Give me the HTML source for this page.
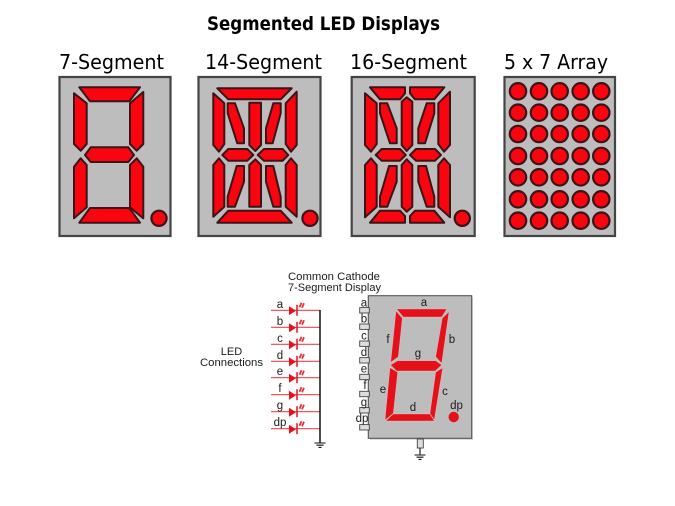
<!DOCTYPE html>
<html><head><meta charset="utf-8"><style>
html,body{margin:0;padding:0;background:#fff;width:675px;height:506px;overflow:hidden}
svg{display:block;filter:blur(.35px)}
.s polygon{fill:#fa0410;stroke:#3c1417;stroke-width:2;stroke-linejoin:round}
.s circle{fill:#fa0410;stroke:#3c1417;stroke-width:2.2}
.p{fill:#bdbdbd;stroke:#444;stroke-width:2.2}
.h{font-family:"DejaVu Sans","Liberation Sans",sans-serif;font-size:20px;fill:#000}
.t{font-family:"Liberation Sans",sans-serif;font-size:11.500px;fill:#1c1c1c}
.c{font-family:"Liberation Sans",sans-serif;font-size:11px;fill:#1c1c1c}
.r polygon{fill:#e4101a;stroke:#f4d8d8;stroke-width:.3}
</style></head><body>
<svg width="675" height="506" viewBox="0 0 675 506" xmlns="http://www.w3.org/2000/svg">
<defs>
<g id="led"><line x1="271" y1="0" x2="320" y2="0" stroke="#ea4650" stroke-width="1.2"/>
<polygon points="289,-4 296,0.5 289,5" fill="#e8101c"/>
<line x1="297" y1="-5.500" x2="297" y2="5.500" stroke="#e8101c" stroke-width="1.500"/>
<path d="M299.5 -3 L301.5 -7.500 M302 -2.500 L304 -7" stroke="#e8303a" stroke-width="1.800"/></g>
<g id="pin"><rect x="359.7" y="-2.7" width="9.6" height="5.4" fill="#ddd" stroke="#444" stroke-width=".9"/></g>
<g id="gnd"><path d="M-5.5 0H5.5M-3.5 2.2H3.5M-1.5 4.4H1.5" stroke="#111" stroke-width="1.100"/></g>
</defs>

<text x="207" y="30" textLength="233" lengthAdjust="spacingAndGlyphs" font-family="'DejaVu Sans',sans-serif" font-weight="700" font-size="19" fill="#000">Segmented LED Displays</text>
<text class="h" x="59" y="69" textLength="105" lengthAdjust="spacingAndGlyphs">7-Segment</text>
<text class="h" x="205" y="69" textLength="117" lengthAdjust="spacingAndGlyphs">14-Segment</text>
<text class="h" x="350" y="69" textLength="117" lengthAdjust="spacingAndGlyphs">16-Segment</text>
<text class="h" x="504" y="69" textLength="104" lengthAdjust="spacingAndGlyphs">5 x 7 Array</text>

<!-- 7 segment -->
<rect class="p" x="59.5" y="77" width="111" height="159"/>
<g class="s">
<polygon points="79.3,87.3 140,87.3 129.3,101.3 90,101.3"/>
<polygon points="74,93.3 86.7,103.3 86.7,144 80.7,150.7 74,144"/>
<polygon points="130,103.3 143.3,92 143.3,144 136.7,150.7 130,144"/>
<polygon points="85,155 90.7,147.3 128.3,147.3 134,155 128.3,162 90.7,162"/>
<polygon points="74,166.7 80.7,158.3 86.7,165 86.7,207.3 74,218.3"/>
<polygon points="130,165 136.7,158.3 143.3,166.7 143.3,218.3 130,207.3"/>
<polygon points="90,208 129.3,208 140,222.7 79.3,222.7"/>
<circle cx="159" cy="218.3" r="7.6"/>
</g>

<!-- 14 segment -->
<rect class="p" x="198.5" y="77" width="122" height="159"/>
<g class="s">
<polygon points="217.3,88.3 291.7,88.3 280.7,99.3 228.3,99.3"/>
<polygon points="213.3,93.3 224.3,103.3 224.3,144 219,151.7 213.3,145"/>
<polygon points="285.7,103.3 296.7,91.7 296.7,145 291,151.7 285.7,144"/>
<polygon points="227.7,103.3 235,103.3 244,128.3 244,143.3 237.3,143.3 227.7,113.3"/>
<polygon points="249.3,102.7 261,102.7 261,145 255.3,151 249.3,145"/>
<polygon points="273.3,103.3 280.7,103.3 280.7,113.3 272.7,143.3 266,143.3 266,128.3"/>
<polygon points="222.3,155 228.3,149 247.3,149 253.3,155 247.3,160.7 228.3,160.7"/>
<polygon points="257.7,155 264,149 282.7,149 288.3,155 282.7,160.7 264,160.7"/>
<polygon points="213.3,165 219,158.3 224.3,165 224.3,206.7 213.3,216.7"/>
<polygon points="285.7,165 291,158.3 296.7,165 296.7,216.7 285.7,206.7"/>
<polygon points="236.7,166 244,166 244,181.7 235,206.7 227.7,206.7 227.7,196.7"/>
<polygon points="249.3,165 255.3,159.3 261,165 261,206.7 249.3,206.7"/>
<polygon points="266,166 273.3,166 280.7,196.7 280.7,206.7 273.3,206.7 266,181.7"/>
<polygon points="228.3,210.7 280.7,210.7 291.7,222.7 217.3,222.7"/>
<circle cx="310" cy="218.3" r="7.6"/>
</g>

<!-- 16 segment -->
<rect class="p" x="351.7" y="77" width="123" height="159"/>
<g class="s">
<polygon points="370,87.3 405,87.3 405,93.3 400,99.3 380,99.3"/>
<polygon points="410,87.3 444.3,87.3 434.3,99.3 415,99.3 410,93.3"/>
<polygon points="365,93.3 376.7,103.3 376.7,144 371,151.7 365,145"/>
<polygon points="401.7,101.7 406.7,97.3 412.3,101.7 412.3,145 406.7,151 401.7,145"/>
<polygon points="438.3,103.3 450,91.7 450,145 444,151.7 438.3,144"/>
<polygon points="380,103.3 387.3,103.3 396.7,128.3 396.7,143.3 390,143.3 380,113.3"/>
<polygon points="426.7,103.3 434.3,103.3 434.3,113.3 425,143.3 418.3,143.3 418.3,128.3"/>
<polygon points="375.7,155 381.7,149 400,149 405.7,155 400,160.7 381.7,160.7"/>
<polygon points="410,155 416,149 435,149 441,155 435,160.7 416,160.7"/>
<polygon points="365,165 371,158.3 376.7,165 376.7,206.7 365,217.3"/>
<polygon points="401.7,165 406.7,159.3 412.3,165 412.3,206.7 406.7,211.7 401.7,206.7"/>
<polygon points="438.3,165 444,158.3 450,165 450,217.3 438.3,206.7"/>
<polygon points="389,166 396.7,166 396.7,181.7 387.3,206.7 380,206.7 380,196.7"/>
<polygon points="418.3,166 426,166 434.3,196.7 434.3,206.7 426.7,206.7 418.3,181.7"/>
<polygon points="380,210.7 400,210.7 405,216 405,222.7 370,222.7"/>
<polygon points="415,210.7 434.3,210.7 444.3,222.7 410,222.7 410,216"/>
<circle cx="462.3" cy="218.3" r="7.6"/>
</g>

<!-- 5x7 -->
<rect class="p" x="504.5" y="77" width="110.5" height="159"/>
<g class="s">
<circle cx="518" cy="91.3" r="8.2"/><circle cx="539" cy="91.3" r="8.2"/><circle cx="559.7" cy="91.3" r="8.2"/><circle cx="580.7" cy="91.3" r="8.2"/><circle cx="601.3" cy="91.3" r="8.2"/>
<circle cx="518" cy="112.7" r="8.2"/><circle cx="539" cy="112.7" r="8.2"/><circle cx="559.7" cy="112.7" r="8.2"/><circle cx="580.7" cy="112.7" r="8.2"/><circle cx="601.3" cy="112.7" r="8.2"/>
<circle cx="518" cy="134" r="8.2"/><circle cx="539" cy="134" r="8.2"/><circle cx="559.7" cy="134" r="8.2"/><circle cx="580.7" cy="134" r="8.2"/><circle cx="601.3" cy="134" r="8.2"/>
<circle cx="518" cy="156" r="8.2"/><circle cx="539" cy="156" r="8.2"/><circle cx="559.7" cy="156" r="8.2"/><circle cx="580.7" cy="156" r="8.2"/><circle cx="601.3" cy="156" r="8.2"/>
<circle cx="518" cy="177.3" r="8.2"/><circle cx="539" cy="177.3" r="8.2"/><circle cx="559.7" cy="177.3" r="8.2"/><circle cx="580.7" cy="177.3" r="8.2"/><circle cx="601.3" cy="177.3" r="8.2"/>
<circle cx="518" cy="199.3" r="8.2"/><circle cx="539" cy="199.3" r="8.2"/><circle cx="559.7" cy="199.3" r="8.2"/><circle cx="580.7" cy="199.3" r="8.2"/><circle cx="601.3" cy="199.3" r="8.2"/>
<circle cx="518" cy="220.7" r="8.2"/><circle cx="539" cy="220.7" r="8.2"/><circle cx="559.7" cy="220.7" r="8.2"/><circle cx="580.7" cy="220.7" r="8.2"/><circle cx="601.3" cy="220.7" r="8.2"/>
</g>

<!-- Header of lower diagram -->
<text class="c" x="288" y="280" textLength="92" lengthAdjust="spacingAndGlyphs">Common Cathode</text>
<text class="c" x="288" y="291" textLength="93" lengthAdjust="spacingAndGlyphs">7-Segment Display</text>
<text class="c" x="231.5" y="355" text-anchor="middle">LED</text>
<text class="c" x="231.5" y="366" text-anchor="middle" textLength="63" lengthAdjust="spacingAndGlyphs">Connections</text>

<!-- LED connections -->
<use href="#led" y="310.3"/><use href="#led" y="327.3"/><use href="#led" y="344.3"/><use href="#led" y="361.3"/>
<use href="#led" y="377.7"/><use href="#led" y="394.7"/><use href="#led" y="411.7"/><use href="#led" y="428.7"/>
<line x1="320" y1="310" x2="320" y2="443" stroke="#111" stroke-width="1.5"/>
<use href="#gnd" x="320" y="443"/>
<g class="t" text-anchor="middle">
<text x="280" y="308">a</text><text x="280" y="325">b</text><text x="280" y="342">c</text><text x="280" y="359">d</text>
<text x="280" y="375">e</text><text x="280" y="392">f</text><text x="280" y="409">g</text><text x="280" y="426">dp</text>
</g>

<!-- Common cathode display -->
<rect x="370" y="297.5" width="103" height="142.5" fill="#dcdcdc"/>
<rect x="368.3" y="295.7" width="103.4" height="142.6" fill="#bdbdbd" stroke="#555" stroke-width="1.100"/>
<use href="#pin" y="310.3"/><use href="#pin" y="326.7"/><use href="#pin" y="343.7"/><use href="#pin" y="360.3"/>
<use href="#pin" y="377"/><use href="#pin" y="394"/><use href="#pin" y="410.3"/><use href="#pin" y="427.3"/>
<g class="t" text-anchor="middle">
<text x="364" y="306.5">a</text><text x="364" y="322.5">b</text><text x="364" y="339.5">c</text><text x="364" y="356">d</text>
<text x="364" y="372.5">e</text><text x="365" y="389">f</text><text x="364" y="406">g</text><text x="362" y="422">dp</text>
</g>
<g class="r">
<polygon points="396.7,309 446.7,309 441.7,317 403.3,317"/>
<polygon points="396,311 402.3,318.3 398.3,356.7 390.7,362.3"/>
<polygon points="449,311.7 442.3,318.3 435.7,356.7 441.7,363.3"/>
<polygon points="390.7,365 397.7,360.7 435.7,360.7 441.7,365 435,371 396.7,371"/>
<polygon points="390,367.7 397.7,372.3 393.3,413.3 385,420"/>
<polygon points="442.7,367.7 435.7,372.3 430,413.3 434.3,420"/>
<polygon points="393.3,414 430,414 434.3,421 385.7,421"/>
</g>
<circle cx="453.7" cy="417" r="5.200" fill="#e4101a"/>
<g class="t" text-anchor="middle">
<text x="424" y="306">a</text><text x="388" y="343">f</text><text x="452" y="343">b</text><text x="418" y="357">g</text>
<text x="383" y="393">e</text><text x="445" y="395">c</text><text x="413" y="411">d</text><text x="456.500" y="409">dp</text>
</g>
<rect x="417.3" y="439" width="6" height="9" fill="#ddd" stroke="#444" stroke-width=".9"/>
<line x1="420" y1="448" x2="420" y2="455" stroke="#111" stroke-width="1.100"/>
<use href="#gnd" x="420" y="455"/>
</svg>
</body></html>
